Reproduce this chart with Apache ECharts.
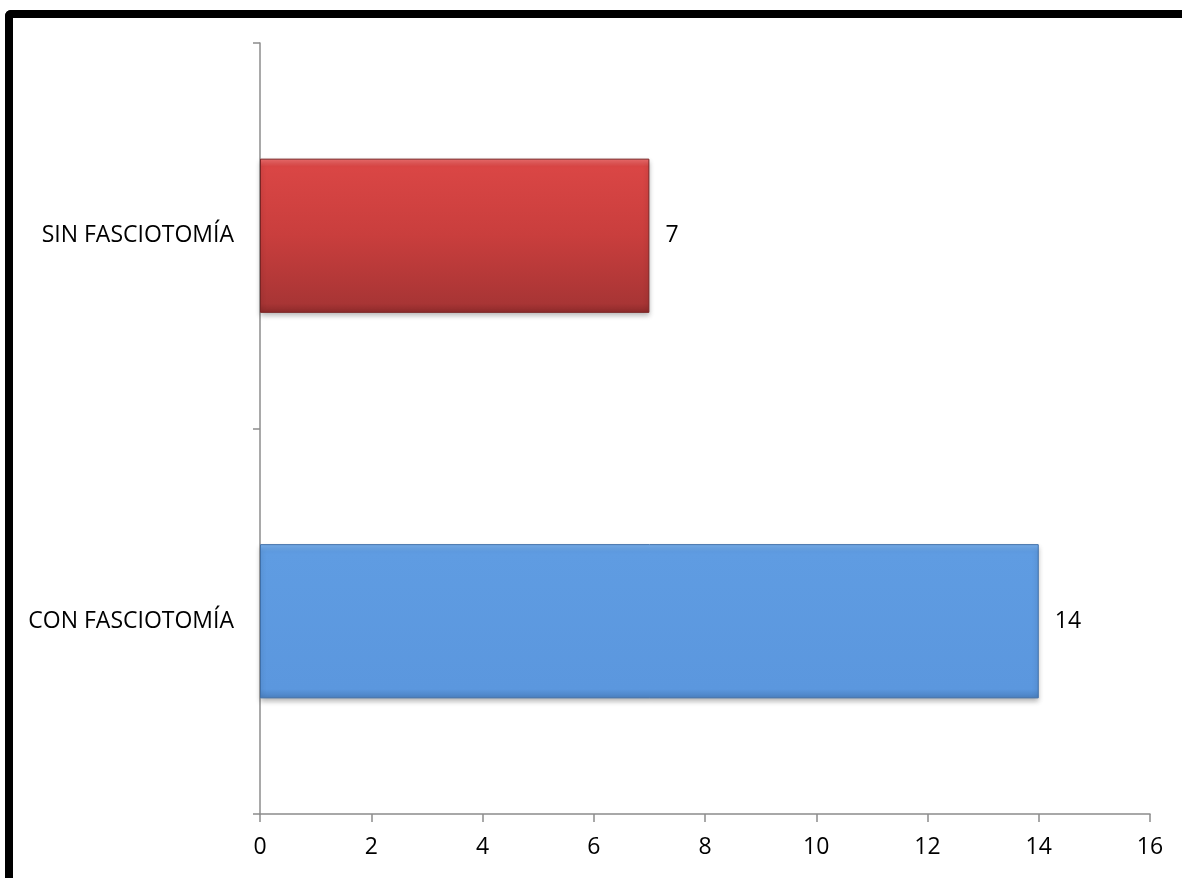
<!DOCTYPE html>
<html>
<head>
<meta charset="utf-8">
<script src="https://cdn.jsdelivr.net/npm/echarts@6/dist/echarts.min.js"></script>
<style>
html,body{margin:0;padding:0;background:#fff;}
#chart{position:absolute;left:0;top:0;width:1182px;height:878px;}
#frame{position:absolute;left:5px;top:10px;width:1200px;height:900px;border-left:8px solid #000;border-top:8px solid #000;border-top-left-radius:6px;pointer-events:none;box-sizing:border-box;}
</style>
</head>
<body>
<div id="chart"></div>
<div id="frame"></div>
<script>
const categories = ['CON FASCIOTOMÍA', 'SIN FASCIOTOMÍA'];
const values = [14, 7];
const xTicks = [0, 2, 4, 6, 8, 10, 12, 14, 16];

const FONT = '"Open Sans", Lato, sans-serif';
const FS = 23;

const barStyles = [
  {
    color: new echarts.graphic.LinearGradient(0, 0, 0, 1, [
      {offset: 0, color: '#7ab2f0'},
      {offset: 0.05, color: '#5f9ce2'},
      {offset: 0.94, color: '#5b97de'},
      {offset: 1, color: '#4a80c0'}
    ]),
    borderColor: '#3f6fa8', borderWidth: 1,
    shadowColor: 'rgba(0,0,0,0.3)', shadowBlur: 5, shadowOffsetY: 3
  },
  {
    color: new echarts.graphic.LinearGradient(0, 0, 0, 1, [
      {offset: 0, color: '#f07070'},
      {offset: 0.05, color: '#da4645'},
      {offset: 0.5, color: '#c93e3d'},
      {offset: 0.94, color: '#a83535'},
      {offset: 1, color: '#8c2a2a'}
    ]),
    borderColor: '#7a2424', borderWidth: 1,
    shadowColor: 'rgba(0,0,0,0.3)', shadowBlur: 5, shadowOffsetY: 3
  }
];

const chart = echarts.init(document.getElementById('chart'), null, {renderer: 'canvas'});
chart.setOption({
  backgroundColor: '#ffffff',
  animation: false,
  grid: {left: 260, right: 32, top: 43, bottom: 64, containLabel: false},
  xAxis: {
    type: 'value', min: 0, max: 16, interval: 2,
    axisLine: {show: true, lineStyle: {color: '#8c8c8c', width: 1.5}},
    axisTick: {show: true, length: 8, lineStyle: {color: '#8c8c8c', width: 1.5}},
    splitLine: {show: false},
    axisLabel: {
      margin: 22, fontSize: FS, color: '#000',
      fontFamily: FONT,
      formatter: v => xTicks.includes(v) ? String(v) : ''
    }
  },
  yAxis: {
    type: 'category', data: categories,
    axisLine: {show: true, lineStyle: {color: '#8c8c8c', width: 1.5}},
    axisTick: {show: true, length: 7, lineStyle: {color: '#8c8c8c', width: 1.5}},
    axisLabel: {
      margin: 26, fontSize: FS, color: '#000',
      fontFamily: FONT
    }
  },
  series: [{
    type: 'bar',
    barCategoryGap: '60%',
    data: values.map((v, i) => ({value: v, itemStyle: barStyles[i]})),
    label: {
      show: true, position: 'right', distance: 16,
      fontSize: FS, color: '#000',
      fontFamily: FONT
    }
  }]
});
</script>
</body>
</html>
